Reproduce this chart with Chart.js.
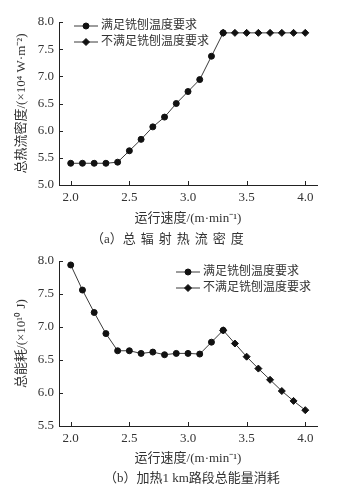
<!DOCTYPE html>
<html>
<head>
<meta charset="utf-8">
<script src="https://cdn.jsdelivr.net/npm/chart.js@4/dist/chart.umd.min.js"></script>
<style>
  body { margin: 0; background: #fff; width: 346px; height: 491px; position: relative; overflow: hidden; }
  canvas { position: absolute; left: 0; }
  .caption { position: absolute; white-space: nowrap; font: 13px 'Liberation Serif', 'Noto Sans CJK SC', serif; color: #333; }
</style>
</head>
<body>
<canvas id="chartA" width="346" height="228" style="top:0"></canvas>
<canvas id="chartB" width="346" height="228" style="top:240px"></canvas>
<div class="caption" style="left:91px; top:228px;">（a）<span style="letter-spacing:5px">总辐射热流密度</span></div>
<div class="caption" style="left:104px; top:467px;">（b）加热1 km路段总能量消耗</div>
<script>
// datos
const speeds = [2.0, 2.1, 2.2, 2.3, 2.4, 2.5, 2.6, 2.7, 2.8, 2.9, 3.0, 3.1, 3.2, 3.3, 3.4, 3.5, 3.6, 3.7, 3.8, 3.9, 4.0];
const heatFlux = [5.40, 5.40, 5.40, 5.40, 5.42, 5.63, 5.84, 6.07, 6.25, 6.50, 6.72, 6.94, 7.37, 7.80, 7.80, 7.80, 7.80, 7.80, 7.80, 7.80, 7.80];
const energy = [7.94, 7.56, 7.22, 6.90, 6.64, 6.64, 6.60, 6.62, 6.58, 6.60, 6.60, 6.59, 6.77, 6.95, 6.75, 6.55, 6.37, 6.20, 6.03, 5.88, 5.74];
const okCount = 14; // 2.0 ~ 3.3 cumplen
const seriesNames = ['满足铣刨温度要求', '不满足铣刨温度要求'];
const xTicks = [2.0, 2.5, 3.0, 3.5, 4.0];
const yTicksA = [5.0, 5.5, 6.0, 6.5, 7.0, 7.5, 8.0];
const yTicksB = [5.5, 6.0, 6.5, 7.0, 7.5, 8.0];

const textColor = '#333';
const axisColor = '#222';
const numFont = { family: "'Liberation Serif', 'Noto Sans CJK SC', serif", size: 13 };

// ticks hacia adentro
const innerTicks = {
  id: 'innerTicks',
  afterDraw(chart) {
    const ctx = chart.ctx;
    const area = chart.chartArea;
    ctx.save();
    ctx.strokeStyle = axisColor;
    ctx.lineWidth = 1;
    ctx.beginPath();
    chart.scales.x.ticks.forEach(t => {
      const px = Math.round(chart.scales.x.getPixelForValue(t.value)) + 0.5;
      ctx.moveTo(px, area.bottom);
      ctx.lineTo(px, area.bottom - 4);
    });
    chart.scales.y.ticks.forEach(t => {
      const py = Math.round(chart.scales.y.getPixelForValue(t.value)) + 0.5;
      ctx.moveTo(area.left, py);
      ctx.lineTo(area.left + 4, py);
    });
    ctx.stroke();
    ctx.restore();
  }
};

// leyenda con linea + marcador
const lineLegend = {
  id: 'lineLegend',
  afterDraw(chart, args, opts) {
    const ctx = chart.ctx;
    const area = chart.chartArea;
    ctx.save();
    chart.data.datasets.forEach((ds, i) => {
      const x = area.left + opts.dx;
      const y = area.top + opts.dy + i * opts.rowGap;
      ctx.strokeStyle = ds.borderColor;
      ctx.lineWidth = ds.borderWidth;
      ctx.beginPath();
      ctx.moveTo(x, y);
      ctx.lineTo(x + 24, y);
      ctx.stroke();
      ctx.fillStyle = ds.pointBackgroundColor;
      ctx.strokeStyle = ds.pointBorderColor;
      Chart.helpers.drawPoint(ctx, { pointStyle: ds.pointStyle, radius: ds.pointRadius, borderWidth: 1, rotation: 0 }, x + 12, y);
      ctx.fillStyle = textColor;
      ctx.font = "12px 'Liberation Serif', 'Noto Sans CJK SC', serif";
      ctx.textBaseline = 'middle';
      ctx.textAlign = 'left';
      ctx.fillText(ds.label, x + 27, y);
    });
    ctx.restore();
  }
};

function makeDatasets(values) {
  const pts = speeds.map((s, i) => ({ x: s, y: values[i] }));
  const base = {
    borderColor: '#3a3a3a',
    borderWidth: 1,
    pointBackgroundColor: '#111',
    pointBorderColor: '#111',
    pointBorderWidth: 1,
    fill: false,
    tension: 0
  };
  return [
    Object.assign({}, base, { label: seriesNames[0], data: pts.slice(0, okCount), pointStyle: 'circle', pointRadius: 3, order: 2 }),
    Object.assign({}, base, { label: seriesNames[1], data: pts.slice(okCount - 1), pointStyle: 'rectRot', pointRadius: 3.5, order: 1 })
  ];
}

function makeChart(id, values, yMin, yMax, yTicks, yTitle, box, legendPos) {
  const ctx = document.getElementById(id).getContext('2d');
  return new Chart(ctx, {
    type: 'line',
    data: { datasets: makeDatasets(values) },
    options: {
      responsive: false,
      animation: false,
      layout: { padding: { left: 0, right: 346 - box.right, top: box.top, bottom: 0 } },
      scales: {
        x: {
          type: 'linear',
          min: 1.9,
          max: 4.1,
          afterBuildTicks: (scale) => { scale.ticks = xTicks.map(v => ({ value: v })); },
          afterFit: (scale) => { scale.height = 228 - box.bottom; },
          grid: { display: false, drawTicks: false },
          border: { display: true, color: axisColor, width: 1 },
          ticks: { color: textColor, font: numFont, padding: 5, maxRotation: 0, callback: v => Number(v).toFixed(1) },
          title: { display: true, text: '运行速度/(m·min⁻¹)', color: textColor, font: numFont, padding: { top: 0, bottom: 2 } }
        },
        y: {
          min: yMin,
          max: yMax,
          afterBuildTicks: (scale) => { scale.ticks = yTicks.map(v => ({ value: v })); },
          afterFit: (scale) => { scale.width = box.left; },
          grid: { display: false, drawTicks: false },
          border: { display: true, color: axisColor, width: 1 },
          ticks: { color: textColor, font: numFont, padding: 5, callback: v => Number(v).toFixed(1) },
          title: { display: true, text: yTitle, color: textColor, font: numFont, padding: { top: 14, bottom: 0 } }
        }
      },
      plugins: {
        legend: { display: false },
        tooltip: { enabled: false },
        lineLegend: legendPos
      }
    },
    plugins: [innerTicks, lineLegend]
  });
}

makeChart('chartA', heatFlux, 5.0, 8.0, yTicksA, '总热流密度/(×10⁴ W·m⁻²)',
  { left: 59, right: 317, top: 22, bottom: 185 }, { dx: 15, dy: 4, rowGap: 16 });
makeChart('chartB', energy, 5.5, 8.0, yTicksB, '总能耗/(×10¹⁰ J)',
  { left: 59, right: 317, top: 21, bottom: 186 }, { dx: 117, dy: 11, rowGap: 16 });
</script>
</body>
</html>
